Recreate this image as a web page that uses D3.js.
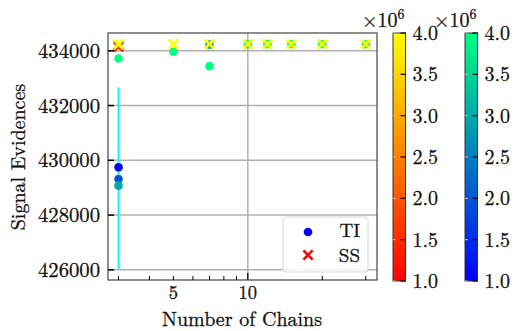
<!DOCTYPE html>
<html>
<head>
<meta charset="utf-8">
<title>signal evidences</title>
<script src="https://cdn.jsdelivr.net/npm/d3@7"></script>
<style>
  body { margin: 0; background: #fff; }
  svg text { stroke: #111; stroke-width: 0.3px; }
</style>
</head>
<body>
<div id="graphDiv"></div>
<script>
// TI points (thermodynamic integration), colour = number of samples
var tiChains   = [3, 3, 3, 3, 5, 7, 7, 10, 12, 15, 20, 30],
    tiSamples  = [1e6, 2e6, 3e6, 4e6, 4e6, 3e6, 4e6, 4e6, 4e6, 4e6, 4e6, 4e6],
    tiEvidence = [429745, 429320, 429075, 433720, 433965, 434225, 433440, 434240, 434240, 434240, 434240, 434240];

// SS points (stepping stone)
var ssChains   = [3, 3, 3, 3, 5, 7, 10, 12, 15, 20, 30],
    ssSamples  = [1e6, 2e6, 3e6, 4e6, 4e6, 4e6, 4e6, 4e6, 4e6, 4e6, 4e6],
    ssEvidence = [434150, 434200, 434225, 434245, 434245, 434245, 434245, 434245, 434245, 434245, 434245];

// error bar on the 3 chain TI run
var errChains = [3],
    errLow    = [426020],
    errHigh   = [432660];

var yTicks = [426000, 428000, 430000, 432000, 434000],
    xMajor = [10],
    xMinor = [3, 4, 5, 6, 7, 8, 9, 20, 30],
    xLabels = [5, 10],
    cbTicks = [1.0, 1.5, 2.0, 2.5, 3.0, 3.5, 4.0];

var width = 517, height = 331,
    plot = {left: 108, right: 377, top: 33, bottom: 280},
    FONT = 'Latin Modern Roman';

var svg = d3.select('#graphDiv').append('svg')
    .attr('width', width)
    .attr('height', height);

var x = d3.scaleLog().domain([2.72, 33.3]).range([plot.left, plot.right]);
var y = d3.scaleLinear().domain([425630, 434650]).range([plot.bottom, plot.top]);

var winter = d3.scaleLinear().domain([1e6, 4e6]).range(['#0000ff', '#00ff80']).interpolate(d3.interpolateRgb);
var autumn = d3.scaleLinear().domain([1e6, 4e6]).range(['#ff0000', '#ffff00']).interpolate(d3.interpolateRgb);

// grid
var grid = svg.append('g');
grid.selectAll('.hg').data(yTicks).enter().append('line')
    .attr('x1', plot.left).attr('x2', plot.right)
    .attr('y1', function(d) { return y(d); }).attr('y2', function(d) { return y(d); })
    .style('stroke', '#b0b0b0').style('stroke-width', 1.5);
grid.selectAll('.vg').data(xMajor).enter().append('line')
    .attr('x1', function(d) { return x(d); }).attr('x2', function(d) { return x(d); })
    .attr('y1', plot.top).attr('y2', plot.bottom)
    .style('stroke', '#b0b0b0').style('stroke-width', 1.5);

// error bar
svg.selectAll('.err').data(errChains).enter().append('line')
    .attr('x1', function(d) { return x(d); }).attr('x2', function(d) { return x(d); })
    .attr('y1', function(d, i) { return y(errLow[i]); })
    .attr('y2', function(d, i) { return y(errHigh[i]); })
    .style('stroke', '#00ffff').style('stroke-width', 2);

// TI dots
svg.selectAll('.ti').data(tiChains).enter().append('circle')
    .attr('cx', function(d) { return x(d); })
    .attr('cy', function(d, i) { return y(tiEvidence[i]); })
    .attr('r', 4.3)
    .style('fill', function(d, i) { return winter(tiSamples[i]); });

// SS crosses
function crossPath(cx, cy, s) {
    return 'M' + (cx - s) + ',' + (cy - s) + 'L' + (cx + s) + ',' + (cy + s) +
           'M' + (cx - s) + ',' + (cy + s) + 'L' + (cx + s) + ',' + (cy - s);
}
svg.selectAll('.ss').data(ssChains).enter().append('path')
    .attr('d', function(d, i) { return crossPath(x(d), y(ssEvidence[i]), 4.6); })
    .style('fill', 'none')
    .style('stroke-width', 2.6)
    .style('stroke', function(d, i) { return autumn(ssSamples[i]); });

// frame
svg.append('rect')
    .attr('x', plot.left).attr('y', plot.top)
    .attr('width', plot.right - plot.left).attr('height', plot.bottom - plot.top)
    .style('fill', 'none').style('stroke', '#444').style('stroke-width', 1.2);

// y ticks + labels
svg.selectAll('.yt').data(yTicks).enter().append('line')
    .attr('x1', plot.left).attr('x2', plot.left + 6)
    .attr('y1', function(d) { return y(d); }).attr('y2', function(d) { return y(d); })
    .style('stroke', '#000').style('stroke-width', 1.5);
var yLab = svg.selectAll('.yl').data(yTicks).enter().append('text')
    .attr('x', plot.left - 8)
    .attr('y', function(d) { return y(d) + 7; })
    .attr('text-anchor', 'end')
    .attr('font-family', FONT).attr('font-size', 20).attr('fill', '#111')
    .text(function(d) { return d; });
// the tick labels in the picture are about 62px wide, size the font to that
var yw = d3.max(yLab.nodes(), function(n) { return n.getComputedTextLength(); });
if (yw > 0) yLab.attr('font-size', Math.min(24, 20 * 62 / yw));

// x ticks
svg.selectAll('.xt').data(xMajor).enter().append('line')
    .attr('x1', function(d) { return x(d); }).attr('x2', function(d) { return x(d); })
    .attr('y1', plot.bottom).attr('y2', plot.bottom - 7)
    .style('stroke', '#000').style('stroke-width', 1.2);
svg.selectAll('.xm').data(xMinor).enter().append('line')
    .attr('x1', function(d) { return x(d); }).attr('x2', function(d) { return x(d); })
    .attr('y1', plot.bottom).attr('y2', plot.bottom - 4)
    .style('stroke', '#000').style('stroke-width', 1);
svg.selectAll('.xl').data(xLabels).enter().append('text')
    .attr('x', function(d) { return x(d); })
    .attr('y', 298.5)
    .attr('text-anchor', 'middle')
    .attr('font-family', FONT).attr('font-size', 18.5).attr('fill', '#111')
    .text(function(d) { return d; });

// axis titles
svg.append('text')
    .attr('x', 242).attr('y', 325.5)
    .attr('text-anchor', 'middle')
    .attr('font-family', FONT).attr('font-size', 20).attr('fill', '#111')
    .text('Number of Chains');
svg.append('text')
    .attr('transform', 'translate(25,157) rotate(-90)')
    .attr('text-anchor', 'middle')
    .attr('font-family', FONT).attr('font-size', 20).attr('fill', '#111')
    .text('Signal Evidences');

// legend
var lg = svg.append('g');
lg.append('rect')
    .attr('x', 283).attr('y', 217).attr('width', 85).attr('height', 55)
    .attr('rx', 3)
    .style('fill', '#fff').style('fill-opacity', 0.85)
    .style('stroke', '#d6d6d6').style('stroke-width', 1);
lg.append('circle').attr('cx', 308).attr('cy', 232).attr('r', 4.3).style('fill', winter(1e6));
lg.append('path').attr('d', crossPath(308, 255, 4.6))
    .style('stroke', autumn(1e6)).style('stroke-width', 2.6).style('fill', 'none');
lg.append('text').attr('x', 360).attr('y', 237).attr('text-anchor', 'end')
    .attr('font-family', FONT).attr('font-size', 19).attr('fill', '#111').text('TI');
lg.append('text').attr('x', 360).attr('y', 261.5).attr('text-anchor', 'end')
    .attr('font-family', FONT).attr('font-size', 19).attr('fill', '#111').text('SS');

// colorbars
var cbY = d3.scaleLinear().domain([1.0, 4.0]).range([plot.bottom + 1, plot.top]);
var defs = svg.append('defs');
function colorbar(id, x0, scale) {
    var grad = defs.append('linearGradient').attr('id', id)
        .attr('x1', 0).attr('x2', 0).attr('y1', 1).attr('y2', 0);
    grad.append('stop').attr('offset', 0).attr('stop-color', scale(1e6));
    grad.append('stop').attr('offset', 1).attr('stop-color', scale(4e6));
    var w = 12.5;
    svg.append('rect')
        .attr('x', x0).attr('y', cbY(4.0))
        .attr('width', w).attr('height', cbY(1.0) - cbY(4.0))
        .style('fill', 'url(#' + id + ')')
        .style('stroke', '#333').style('stroke-width', 1);
    var g = svg.append('g');
    g.selectAll('.ct').data(cbTicks).enter().append('line')
        .attr('x1', x0 + w - 5).attr('x2', x0 + w)
        .attr('y1', function(d) { return cbY(d); }).attr('y2', function(d) { return cbY(d); })
        .style('stroke', '#000').style('stroke-width', 1.2);
    g.selectAll('.cm').data(cbTicks).enter().append('line')
        .attr('x1', x0).attr('x2', x0 + 3)
        .attr('y1', function(d) { return cbY(d); }).attr('y2', function(d) { return cbY(d); })
        .style('stroke', '#bbb').style('stroke-width', 1);
    g.selectAll('.cl').data(cbTicks).enter().append('text')
        .attr('x', x0 + w + 7)
        .attr('y', function(d) { return cbY(d) + 7; })
        .attr('font-family', FONT).attr('font-size', 20).attr('fill', '#111')
        .text(function(d) { return d.toFixed(1); });
    var off = svg.append('text')
        .attr('x', x0 - 31).attr('y', 27)
        .attr('font-family', FONT).attr('font-size', 20).attr('fill', '#111');
    off.append('tspan').text('\u00d710');
    off.append('tspan').attr('dy', -8).attr('font-size', 14).text('6');
}
colorbar('cbSS', 393, autumn);
colorbar('cbTI', 465, winter);
</script>
</body>
</html>
